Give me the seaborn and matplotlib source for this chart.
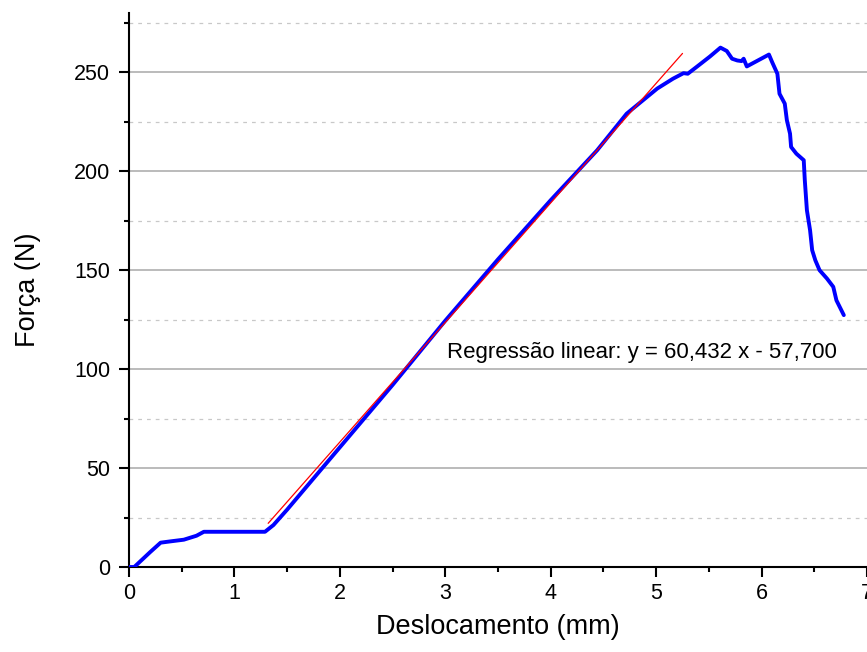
import matplotlib
matplotlib.use("Agg")
import matplotlib.pyplot as plt
import seaborn as sns
import pandas as pd
import numpy as np
from matplotlib.ticker import MultipleLocator

# ---- data ----
displacement = [0.0, 0.05, 0.10, 0.20, 0.30, 0.40, 0.52, 0.64, 0.71, 0.90, 1.10, 1.29,
                1.37, 1.50, 2.00, 2.50, 3.00, 3.50, 4.00, 4.44, 4.72, 5.01, 5.16, 5.26,
                5.30, 5.39, 5.51, 5.61, 5.67, 5.72, 5.77, 5.81, 5.83, 5.86, 6.07, 6.10,
                6.15, 6.17, 6.22, 6.24, 6.27, 6.28, 6.33, 6.40, 6.41, 6.43, 6.46, 6.48,
                6.51, 6.55, 6.62, 6.68, 6.71, 6.78]
force = [0.0, 0.0, 2.5, 7.5, 12.3, 13.0, 13.8, 15.8, 17.8, 17.8, 17.8, 17.8,
         21.2, 29.0, 60.5, 92.0, 124.5, 155.5, 185.4, 210.6, 229.1, 241.8, 246.8, 249.6,
         249.3, 253.0, 258.0, 262.5, 260.8, 256.9, 256.0, 255.7, 256.9, 253.0, 259.0, 255.2,
         249.3, 239.2, 234.2, 225.8, 219.0, 212.3, 208.9, 205.6, 195.5, 180.3, 170.2, 160.1,
         155.0, 150.0, 145.8, 141.6, 134.8, 127.3]

reg_slope = 60.432
reg_intercept = -57.700
reg_x = [1.32, 5.25]
reg_y = [reg_slope * v + reg_intercept for v in reg_x]

annotation = "Regressão linear: y = 60,432 x - 57,700"
x_label = "Deslocamento (mm)"
y_label = "Força (N)"

# ---- figure ----
sns.set_theme(style="white")
plt.rcParams['font.family'] = ['Liberation Sans', 'DejaVu Sans']

fig = plt.figure(figsize=(8.67, 6.52), dpi=100)
ax = fig.add_axes([129 / 867, 1 - 567 / 652, 1 - 129 / 867, (567 - 13) / 652])

curve = pd.DataFrame({"Deslocamento": displacement, "Força": force})
reg = pd.DataFrame({"x": reg_x, "y": reg_y})

sns.lineplot(data=curve, x="Deslocamento", y="Força", ax=ax, color="#0000ff",
             linewidth=2.8, sort=False, estimator=None, zorder=3)
sns.lineplot(data=reg, x="x", y="y", ax=ax, color="#ff0000", linewidth=0.9,
             estimator=None, zorder=4)

ax.set_xlim(0, 7)
ax.set_ylim(0, 280)
ax.xaxis.set_major_locator(MultipleLocator(1))
ax.xaxis.set_minor_locator(MultipleLocator(0.5))
ax.yaxis.set_major_locator(MultipleLocator(50))
ax.yaxis.set_minor_locator(MultipleLocator(25))

ax.grid(False)
ax.yaxis.grid(True, which="major", color="#a8a8a8", linewidth=1.1, linestyle="-", zorder=0)
ax.yaxis.grid(True, which="minor", color="#c8c8c8", linewidth=0.9, linestyle=(0, (3, 4)), zorder=0)
ax.set_axisbelow(True)

for s in ["top", "right"]:
    ax.spines[s].set_visible(False)
for s in ["left", "bottom"]:
    ax.spines[s].set_color("black")
    ax.spines[s].set_linewidth(1.5)

ax.tick_params(axis="both", which="major", direction="out", length=7.5, width=1.5,
               color="black", labelsize=15.5, labelcolor="black")
ax.tick_params(axis="both", which="minor", direction="out", length=3.8, width=1.5,
               color="black")
ax.tick_params(axis="x", which="both", bottom=True, pad=4)
ax.tick_params(axis="y", which="both", left=True, pad=6)

ax.set_xlabel(x_label, fontsize=19.5, color="black", labelpad=7)
ax.set_ylabel(y_label, fontsize=19.5, color="black", labelpad=24)

ax.text(3.02, 108.5, annotation, fontsize=16, color="black", ha="left", va="center")

fig.savefig("out.png", dpi=100)
